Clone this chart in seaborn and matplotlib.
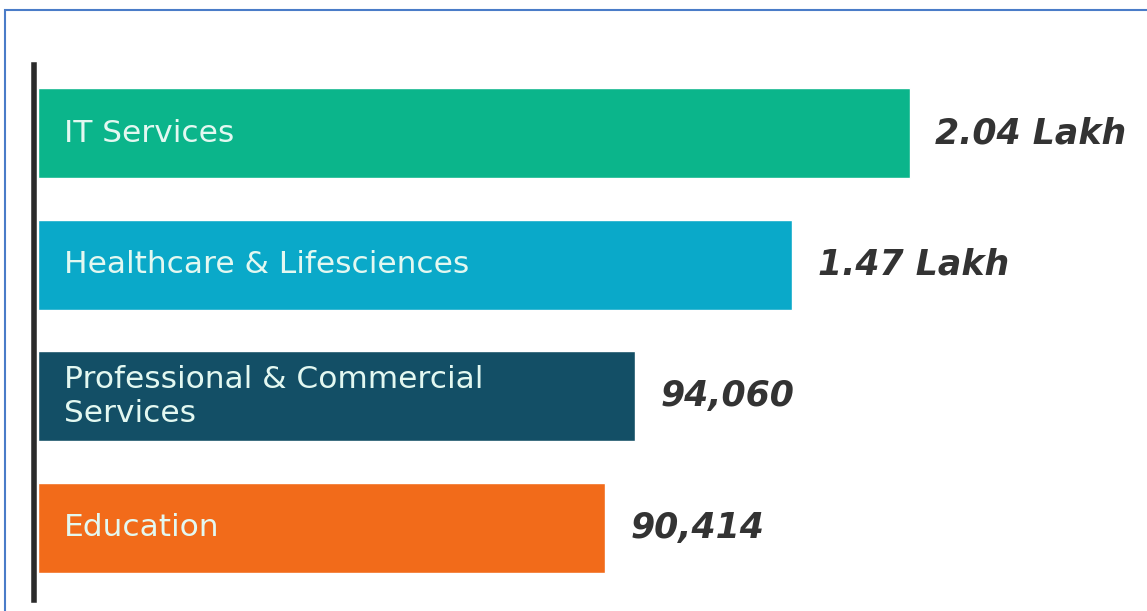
import pandas as pd
import matplotlib.pyplot as plt
import seaborn as sns
from matplotlib.patches import Rectangle

industries = ["IT Services", "Healthcare & Lifesciences",
              "Professional & Commercial\nServices", "Education"]
jobs_label = ["2.04 Lakh", "1.47 Lakh", "94,060", "90,414"]
# drawn bar length in the infographic, % of the longest bar (not to scale)
bar_length = [100, 86.5, 68.5, 65]
bar_colors = ["#0bb58b", "#0aa9c9", "#134f66", "#f26b1a"]

df = pd.DataFrame({"industry": industries, "length": bar_length})

sns.set_style("white")
plt.rcParams['font.family'] = ['DejaVu Sans']

fig = plt.figure(figsize=(11.47, 6.11), dpi=100)
ax = fig.add_axes([38 / 1147, 11 / 611, 1109 / 1147, 535 / 611])

sns.barplot(data=df, y="industry", x="length", hue="industry",
            palette=bar_colors, orient="h", width=0.685,
            legend=False, ax=ax, saturation=1)

ax.set_xlim(0, 100 * 1109 / 872)
ax.set_ylim(3.548, -0.52)
ax.set_xlabel("")
ax.set_ylabel("")
ax.set_xticks([])
ax.set_yticks([])
for s in ["top", "right", "bottom"]:
    ax.spines[s].set_visible(False)
ax.spines["left"].set_linewidth(4)
ax.spines["left"].set_color("#2b2b2b")
ax.spines["left"].set_position(("outward", 3))

for i, (name, v, lab) in enumerate(zip(industries, bar_length, jobs_label)):
    ax.text(3.0, i, name, va="center", ha="left", fontsize=22.5,
            color="#e3f8f1", linespacing=1.2)
    ax.text(v + 2.9, i, lab, va="center", ha="left", fontsize=25,
            fontweight="bold", fontstyle="oblique", color="#333333")

# blue frame of the figure box
fig.patches.append(Rectangle((5 / 1147, -0.05), 1.1, 601 / 611 + 0.05,
                             transform=fig.transFigure, fill=False,
                             edgecolor="#4a7cc8", linewidth=1.5))

fig.savefig("out.png", dpi=100)
